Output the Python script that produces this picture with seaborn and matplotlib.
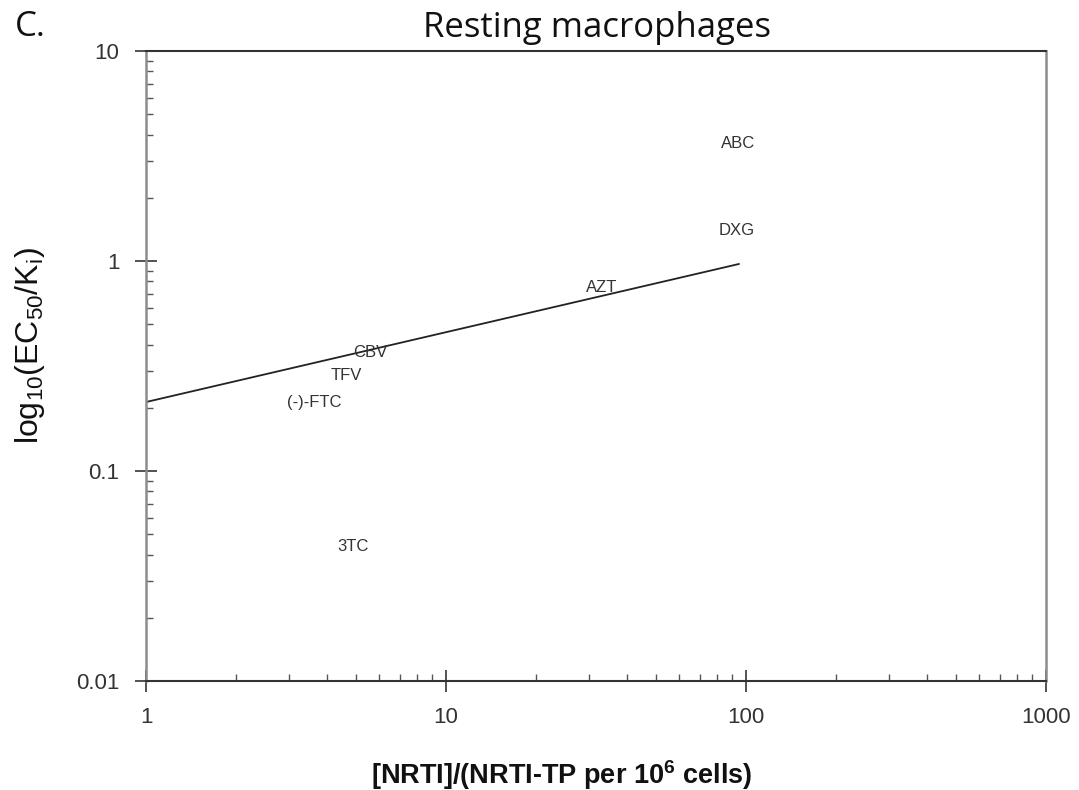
import matplotlib
matplotlib.use("Agg")
import matplotlib.pyplot as plt
import seaborn as sns
import pandas as pd
from matplotlib.ticker import LogLocator, FixedLocator, FixedFormatter, NullFormatter

# Data
drugs = ["ABC", "DXG", "AZT", "CBV", "TFV", "(-)-FTC", "3TC"]
ratio = [94.0, 93.3, 32.9, 5.58, 4.64, 3.63, 4.9]
ec50_ki = [3.61, 1.39, 0.744, 0.365, 0.286, 0.211, 0.0435]
fit_x = [1.0, 94.8]
fit_y = [0.213, 0.968]
xticks = [1, 10, 100, 1000]
xticklabels = ["1", "10", "100", "1000"]
yticks = [0.01, 0.1, 1, 10]
yticklabels = ["0.01", "0.1", "1", "10"]

sns.set_style("white")
plt.rcParams["font.family"] = ["Liberation Sans", "DejaVu Sans"]
plt.rcParams["mathtext.default"] = "regular"

fig = plt.figure(figsize=(10.79, 7.90), dpi=100)
ax = fig.add_axes([146/1079, 1-681/790, 900/1079, 630/790])

df_pts = pd.DataFrame({"drug": drugs, "ratio": ratio, "val": ec50_ki})
df_fit = pd.DataFrame({"x": fit_x, "y": fit_y})
sns.lineplot(data=df_fit, x="x", y="y", ax=ax, color="#222222", linewidth=1.3)

ax.set_xscale("log")
ax.set_yscale("log")
ax.set_xlim(1, 1000)
ax.set_ylim(0.01, 10)

for d, xv, yv in zip(df_pts["drug"], df_pts["ratio"], df_pts["val"]):
    ax.text(xv, yv, d, ha="center", va="center", fontsize=12, color="#333333")

ax.xaxis.set_major_locator(FixedLocator(xticks))
ax.xaxis.set_major_formatter(FixedFormatter(xticklabels))
ax.yaxis.set_major_locator(FixedLocator(yticks))
ax.yaxis.set_major_formatter(FixedFormatter(yticklabels))
ax.xaxis.set_minor_locator(LogLocator(base=10, subs=range(2, 10)))
ax.yaxis.set_minor_locator(LogLocator(base=10, subs=range(2, 10)))
ax.xaxis.set_minor_formatter(NullFormatter())
ax.yaxis.set_minor_formatter(NullFormatter())

ax.tick_params(which="major", direction="inout", length=16, width=1.3,
               labelsize=16, colors="#444444", labelcolor="#333333", pad=11,
               bottom=True, left=True, top=False, right=False)
ax.tick_params(which="minor", direction="in", length=5, width=1.0, color="#555555",
               bottom=True, left=True, top=False, right=False)

for side in ["left", "right"]:
    ax.spines[side].set_color("#8c8c8c")
    ax.spines[side].set_linewidth(1.8)
for side in ["top", "bottom"]:
    ax.spines[side].set_color("#333333")
    ax.spines[side].set_linewidth(1.5)

ax.set_xlabel(r"[NRTI]/(NRTI-TP per 10$^6$ cells)", fontsize=19.5, fontweight="bold",
              color="#111111", va="center")
ax.xaxis.set_label_coords((562-146)/900, (681-775)/630)
ax.set_ylabel(r"log$_{10}$(EC$_{50}$/K$_i$)", fontsize=23, color="#111111", va="center")
ax.yaxis.set_label_coords((30-146)/900, (681-345)/630)

fig.text(597/1079, 1-28/790, "Resting macrophages", ha="center", va="center",
         fontsize=25, family=["Open Sans", "DejaVu Sans"], color="#111111")
fig.text(15/1079, 1-27/790, "C.", ha="left", va="center",
         fontsize=25, family=["Open Sans", "DejaVu Sans"], color="#111111")

fig.savefig("out.png", dpi=100)
